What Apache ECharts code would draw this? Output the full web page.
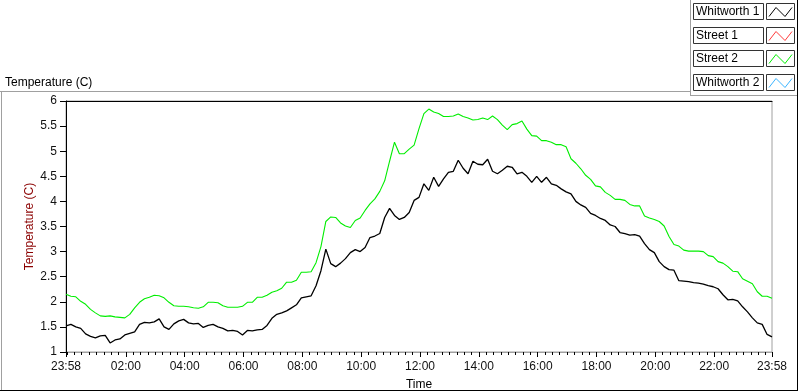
<!DOCTYPE html>
<html>
<head>
<meta charset="utf-8">
<title>Temperature (C)</title>
<script src="https://cdn.jsdelivr.net/npm/echarts@6/dist/echarts.min.js"></script>
<style>
  html, body { margin: 0; padding: 0; background: #fff; }
  #chart { width: 800px; height: 392px; }
</style>
</head>
<body>
<div id="chart"></div>
<script>
// minutes after 23:58 (start of the record), one sample every 10 minutes
const sampleMinutes = Array.from({ length: 145 }, (_, i) => i * 10);

const whitworth1 = [
  1.52, 1.55, 1.50, 1.47, 1.36, 1.31, 1.28, 1.32, 1.33, 1.18,
  1.24, 1.26, 1.34, 1.37, 1.40, 1.55, 1.59, 1.58, 1.60, 1.66,
  1.50, 1.45, 1.56, 1.62, 1.65, 1.58, 1.56, 1.57, 1.49, 1.53,
  1.55, 1.50, 1.47, 1.42, 1.43, 1.41, 1.34, 1.43, 1.42, 1.44,
  1.45, 1.53, 1.67, 1.75, 1.78, 1.82, 1.88, 1.94, 2.08, 2.10,
  2.12, 2.32, 2.62, 3.05, 2.76, 2.70, 2.77, 2.86, 2.98, 3.04,
  3.00, 3.08, 3.28, 3.31, 3.36, 3.68, 3.86, 3.72, 3.64, 3.68,
  3.78, 4.02, 4.08, 4.35, 4.22, 4.48, 4.30, 4.45, 4.58, 4.60,
  4.82, 4.66, 4.55, 4.80, 4.74, 4.73, 4.84, 4.60, 4.55, 4.62,
  4.70, 4.68, 4.55, 4.58, 4.50, 4.38, 4.50, 4.38, 4.48, 4.35,
  4.32, 4.25, 4.19, 4.15, 4.00, 3.93, 3.88, 3.76, 3.72, 3.66,
  3.62, 3.53, 3.50, 3.38, 3.36, 3.33, 3.34, 3.31, 3.16, 3.04,
  2.98, 2.80, 2.70, 2.64, 2.63, 2.42, 2.41, 2.40, 2.38, 2.37,
  2.35, 2.32, 2.30, 2.26, 2.14, 2.04, 2.05, 2.02, 1.90, 1.80,
  1.68, 1.58, 1.55, 1.35, 1.30
];

const street1 = [];

const street2 = [
  2.15, 2.11, 2.10, 2.01, 1.95, 1.85, 1.78, 1.72, 1.71, 1.72,
  1.70, 1.69, 1.68, 1.75, 1.88, 1.99, 2.06, 2.09, 2.13, 2.12,
  2.08, 1.99, 1.92, 1.91, 1.91, 1.90, 1.88, 1.87, 1.90, 1.99,
  1.99, 1.98, 1.92, 1.89, 1.89, 1.89, 1.91, 1.99, 1.99, 2.09,
  2.09, 2.13, 2.19, 2.22, 2.27, 2.39, 2.39, 2.43, 2.59, 2.59,
  2.60, 2.78, 3.10, 3.60, 3.69, 3.68, 3.57, 3.51, 3.48, 3.62,
  3.67, 3.82, 3.95, 4.05, 4.20, 4.41, 4.80, 5.18, 4.95, 4.95,
  5.04, 5.12, 5.45, 5.75, 5.84, 5.78, 5.75, 5.69, 5.69, 5.70,
  5.74, 5.69, 5.66, 5.62, 5.63, 5.66, 5.63, 5.70, 5.63, 5.52,
  5.43, 5.53, 5.55, 5.60, 5.44, 5.31, 5.30, 5.21, 5.21, 5.18,
  5.13, 5.13, 5.09, 4.85, 4.76, 4.65, 4.52, 4.44, 4.31, 4.29,
  4.18, 4.12, 4.04, 4.04, 4.02, 3.94, 3.91, 3.91, 3.71, 3.67,
  3.64, 3.60, 3.51, 3.30, 3.14, 3.11, 3.03, 3.01, 3.01, 3.01,
  3.00, 2.92, 2.90, 2.80, 2.77, 2.70, 2.61, 2.60, 2.46, 2.41,
  2.36, 2.20, 2.11, 2.11, 2.07
];

const whitworth2 = [];

// tick positions in minutes after 23:58
const majorTicks = [0, 122, 242, 362, 482, 602, 722, 842, 962, 1082, 1202, 1322, 1440];
const minorTicks = Array.from({ length: 96 }, (_, i) => 2 + i * 15);

const seriesNames = ['Whitworth 1', 'Street 1', 'Street 2', 'Whitworth 2'];
const seriesColors = ['#000000', '#ff3a3a', '#00ee00', '#3ab4ff'];
const seriesValues = [whitworth1, street1, street2, whitworth2];

const font = '"Liberation Sans", Arial, sans-serif';

const clock = (v) => {
  const m = Math.round(v + 1438) % 1440;
  const h = Math.floor(m / 60), mm = m % 60;
  return String(h).padStart(2, '0') + ':' + String(mm).padStart(2, '0');
};

const myChart = echarts.init(document.getElementById('chart'), null, { renderer: 'canvas' });

// legend drawn as boxed rows like the original panel
const legendGraphics = [];
seriesNames.forEach((name, i) => {
  const top = Math.round(3 + i * 23.6) + 0.5;
  legendGraphics.push({
    type: 'rect', shape: { x: 693.5, y: top, width: 70, height: 16 },
    style: { fill: '#fff', stroke: '#333', lineWidth: 1 }
  });
  legendGraphics.push({
    type: 'text', x: 696, y: top + 8,
    style: { text: name, font: '12px ' + font, fill: '#000', textVerticalAlign: 'middle' }
  });
  legendGraphics.push({
    type: 'rect', shape: { x: 766.5, y: top, width: 28, height: 16 },
    style: { fill: '#fff', stroke: '#333', lineWidth: 1 }
  });
  legendGraphics.push({
    type: 'polyline',
    shape: { points: [[769, top + 13], [776, top + 4], [785, top + 13], [792, top + 4]] },
    style: { stroke: seriesColors[i], lineWidth: 1, fill: null }
  });
});

const frameGraphics = [
  { type: 'line', shape: { x1: 0, y1: 91.5, x2: 690, y2: 91.5 }, style: { stroke: '#a0a0a0', lineWidth: 1 } },
  { type: 'line', shape: { x1: 1.5, y1: 91, x2: 1.5, y2: 390 }, style: { stroke: '#a0a0a0', lineWidth: 1 } },
  { type: 'line', shape: { x1: 690.5, y1: 0, x2: 690.5, y2: 96 }, style: { stroke: '#a0a0a0', lineWidth: 1 } },
  { type: 'line', shape: { x1: 690, y1: 95.5, x2: 797, y2: 95.5 }, style: { stroke: '#a0a0a0', lineWidth: 1 } },
  { type: 'line', shape: { x1: 0, y1: 390.5, x2: 798, y2: 390.5 }, style: { stroke: '#000', lineWidth: 1 } },
  { type: 'line', shape: { x1: 797.5, y1: 0, x2: 797.5, y2: 391 }, style: { stroke: '#000', lineWidth: 1 } }
];

let option = {
  animation: false,
  backgroundColor: '#fff',
  title: {
    text: 'Temperature (C)',
    left: 5, top: 77, padding: 0,
    textStyle: { fontFamily: font, fontSize: 12, fontWeight: 'normal', color: '#000' }
  },
  grid: {
    left: 66, top: 101, width: 706, height: 251,
    outerBoundsMode: 'none',
    containLabel: false,
    show: true, borderColor: '#a0a0a0', borderWidth: 1, backgroundColor: '#fff'
  },
  xAxis: [
    {
      type: 'value', min: 0, max: 1440,
      name: 'Time', nameLocation: 'middle', nameGap: 27,
      nameTextStyle: { fontFamily: font, fontSize: 12, color: '#000' },
      axisLine: { show: true, lineStyle: { color: '#a0a0a0', width: 1 } },
      axisTick: { show: true, customValues: majorTicks, length: 5, lineStyle: { color: '#000', width: 1 } },
      axisLabel: {
        customValues: majorTicks, margin: 9, formatter: clock,
        fontFamily: font, fontSize: 12, color: '#111'
      },
      splitLine: { show: false }
    },
    {
      type: 'value', min: 0, max: 1440, position: 'bottom',
      axisLine: { show: false },
      axisTick: { show: true, customValues: minorTicks, length: 3, lineStyle: { color: '#000', width: 1 } },
      axisLabel: { show: false },
      splitLine: { show: false }
    },
    {
      type: 'value', min: 0, max: 1440, position: 'top',
      axisLine: { show: true, lineStyle: { color: '#000', width: 1 } },
      axisTick: { show: false }, axisLabel: { show: false }, splitLine: { show: false }
    }
  ],
  yAxis: {
    type: 'value', min: 1, max: 6, interval: 0.5,
    name: 'Temperature (C)', nameLocation: 'middle', nameGap: 30,
    nameMoveOverlap: false,
    nameTextStyle: { fontFamily: font, fontSize: 12, color: '#8b0000' },
    axisLine: { show: true, lineStyle: { color: '#000', width: 1 } },
    axisTick: { show: true, length: 6, lineStyle: { color: '#000' } },
    axisLabel: { margin: 9, fontFamily: font, fontSize: 12, color: '#111' },
    splitLine: { show: false }
  },
  series: seriesNames.map((name, i) => ({
    name: name,
    type: 'line',
    xAxisIndex: 0,
    showSymbol: false,
    symbol: 'none',
    lineStyle: { color: seriesColors[i], width: i === 0 ? 1.3 : 1.1 },
    itemStyle: { color: seriesColors[i] },
    data: seriesValues[i].map((v, k) => [sampleMinutes[k], v])
  })),
  graphic: frameGraphics.concat(legendGraphics)
};

myChart.setOption(option);
window.addEventListener('resize', () => { myChart.resize(); });
</script>
</body>
</html>
